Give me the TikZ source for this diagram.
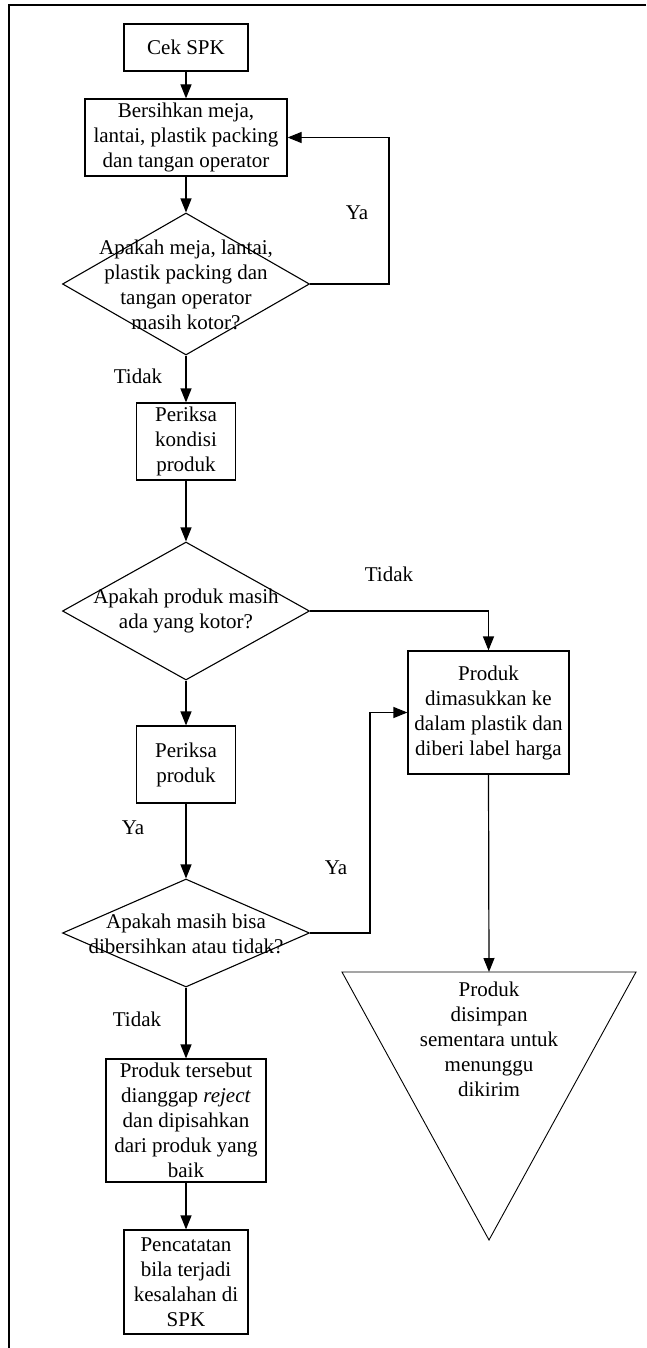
\documentclass[tikz,border=0pt]{standalone}
\usepackage{fontspec}
\setmainfont{Liberation Serif}
\usetikzlibrary{arrows.meta,shapes.geometric}
\begin{document}
\begin{tikzpicture}[x=1pt,y=-1pt,
  every node/.style={font=\fontsize{21}{25}\selectfont},
  box/.style={draw,line width=1.2pt,inner sep=0pt,align=center},
  dia/.style={draw,line width=1.1pt,diamond,inner sep=0pt,minimum width=247pt,minimum height=142pt},
  txt/.style={align=center,inner sep=0pt},
  lbl/.style={inner sep=0pt},
  flow/.style={line width=1.2pt,-{Triangle[length=14pt,width=11pt]}},
  plain/.style={line width=1.2pt}]
\useasboundingbox (0,0) rectangle (646,1348);
% page frame
\draw[line width=1.5pt] (646,5) -- (9,5) -- (9,1348);

% process boxes
\node[box,minimum width=124pt,minimum height=47pt] (c1) at (186,47.5) {Cek SPK};
\node[box,minimum width=202pt,minimum height=77pt] (b1) at (186,137.5) {Bersihkan meja,\\lantai, plastik packing\\dan tangan operator};
\node[dia] (d1) at (186,284) {};
\node[txt] at (186,285) {Apakah meja, lantai,\\plastik packing dan\\tangan operator\\masih kotor?};
\node[box,minimum width=99pt,minimum height=77pt] (p1) at (186,441.5) {Periksa\\kondisi\\produk};
\node[dia,minimum height=138pt] (d2) at (186,611) {};
\node[txt] at (186,611) {Apakah produk masih\\ada yang kotor?};
\node[box,minimum width=99pt,minimum height=77pt] (p2) at (186,764.5) {Periksa\\produk};
\node[dia,minimum height=108pt] (d3) at (186,933) {};
\node[txt] at (186,934) {Apakah masih bisa\\dibersihkan atau tidak?};
\node[box,minimum width=160pt,minimum height=123pt] (r1) at (186,1120.5) {Produk tersebut\\dianggap \textit{reject}\\dan dipisahkan\\dari produk yang\\baik};
\node[box,minimum width=124pt,minimum height=104pt] (r2) at (186,1282) {Pencatatan\\bila terjadi\\kesalahan di\\SPK};
\node[box,minimum width=161pt,minimum height=123pt] (p5) at (488.5,712.5) {Produk\\dimasukkan ke\\dalam plastik dan\\diberi label harga};

% storage triangle
\coordinate (tri) at (489,972);
\draw[line width=0.9pt] (342,972) -- (636,972) -- (489,1240) -- cycle;
\node[txt] (st) at (489,1039) {Produk\\disimpan\\sementara untuk\\menunggu\\dikirim};

% loop and branch columns
\coordinate (loopx) at (389,0);
\coordinate (ybranch) at (370,0);

% connectors
\draw[flow] (c1.south) -- (b1.north);
\draw[flow] (b1.south) -- (d1.north);
\draw[flow] (d1.east) -- (d1.east -| loopx) |- (b1.east);
\draw[flow] (d1.south) -- (p1.north);
\draw[flow] (p1.south) -- (d2.north);
\draw[flow] (d2.east) -| (p5.north);
\draw[flow] (d2.south) -- (p2.north);
\draw[flow] (p2.south) -- (d3.north);
\draw[flow] (d3.east) -- (d3.east -| ybranch) |- (p5.west);
\draw[flow] (d3.south) -- (r1.north);
\draw[flow] (r1.south) -- (r2.north);
\draw[flow] (p5.south) -- (tri);

% branch labels
\node[lbl] at (357,213) {Ya};
\node[lbl] at (138,376) {Tidak};
\node[lbl] at (389,574) {Tidak};
\node[lbl] at (133,828) {Ya};
\node[lbl] at (336,868) {Ya};
\node[lbl] at (137,1019) {Tidak};
\end{tikzpicture}
\end{document}
